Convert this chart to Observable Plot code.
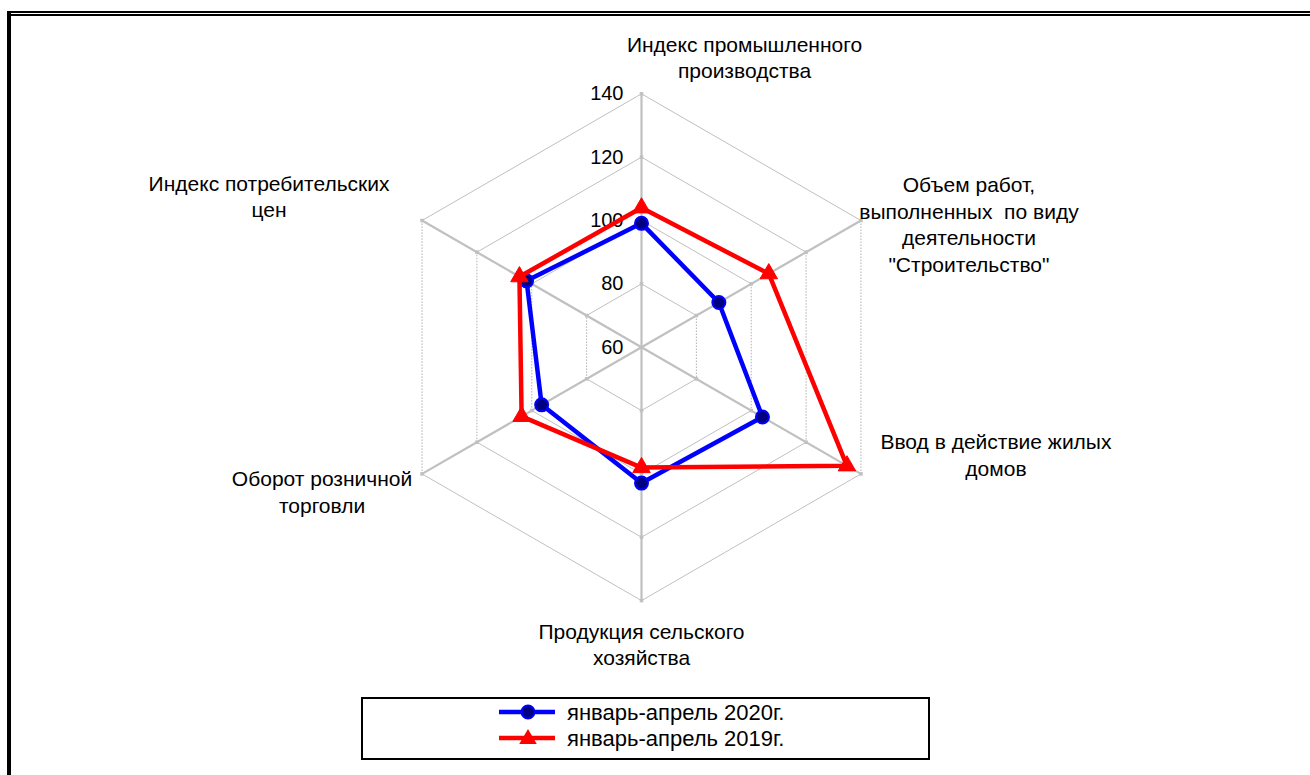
<!DOCTYPE html>
<html><head><meta charset="utf-8">
<script src="https://cdn.jsdelivr.net/npm/d3@7"></script>
<script src="https://cdn.jsdelivr.net/npm/@observablehq/plot@0.6"></script>
<style>
body{margin:0;background:#fff;}
#wrap{position:relative;width:1310px;height:775px;overflow:hidden;font-family:"Liberation Sans",Arial,sans-serif;}
#chart{position:absolute;left:0;top:0;}
.fr{position:absolute;background:#000;}
#legend{position:absolute;left:361px;top:697px;width:569px;height:63px;border:2px solid #000;box-sizing:border-box;background:#fff;}
svg text{white-space:pre;}
</style></head><body>
<div id="wrap">
  <div id="chart"></div>
  <div class="fr" style="left:7px;top:11px;width:4px;height:764px"></div>
  <div class="fr" style="left:7px;top:11px;width:1303px;height:2px"></div>
  <div class="fr" style="left:11px;top:14px;width:1299px;height:1.5px"></div>
  <div id="legend"></div>
</div>
<script>
const categories = [
  "Индекс промышленного\nпроизводства",
  "Объем работ,\nвыполненных  по виду\nдеятельности\n\"Строительство\"",
  "Ввод в действие жилых\nдомов",
  "Продукция сельского\nхозяйства",
  "Оборот розничной\nторговли",
  "Индекс потребительских\nцен"
];
const series2020 = [99.1, 88.2, 104.1, 102.9, 96.4, 101.9];
const series2019 = [104.0, 106.4, 134.9, 98.0, 103.7, 104.5];
const seriesNames = ["январь-апрель 2020г.", "январь-апрель 2019г."];
const ticks = [60, 80, 100, 120, 140];

const baseV = ticks[0], maxV = ticks[ticks.length - 1];
const n = categories.length;
const ang = i => 2 * Math.PI * i / n;
const px = (v, i) => (v - baseV) * Math.sin(ang(i));
const py = (v, i) => (v - baseV) * Math.cos(ang(i));

const d2020 = series2020.map((v, i) => ({i, v}));
const d2019 = series2019.map((v, i) => ({i, v}));

const rings = ticks.filter(t => t > baseV);
const edges = [];
for (const t of rings) for (let i = 0; i < n; i++) edges.push({t, i, j: (i + 1) % n, vertical: (i === 1 || i === 4)});
const nodes = [];
for (const t of rings) for (let i = 0; i < n; i++) nodes.push({t, i});
const idx = d3.range(n);

const cx = 641, cy = 346.7, R = 253.4, span = maxV - baseV;

// label offsets in pixels from the outer vertex of each spoke
const labelOffsets = [[103, -37], [108, 3], [135, -20], [0, 43], [-100, 17], [-153, -25]];

const font = "Liberation Sans, Arial, sans-serif";

const marks = [
  Plot.link(edges.filter(e => !e.vertical), {
    x1: e => px(e.t, e.i), y1: e => py(e.t, e.i), x2: e => px(e.t, e.j), y2: e => py(e.t, e.j),
    stroke: "#c0c0c0", strokeWidth: 1
  }),
  Plot.link(edges.filter(e => e.vertical), {
    x1: e => px(e.t, e.i), y1: e => py(e.t, e.i), x2: e => px(e.t, e.j), y2: e => py(e.t, e.j),
    stroke: "#b0b0b0", strokeWidth: 1, strokeDasharray: "1.5,1.5"
  }),
  Plot.link(idx, {
    x1: () => 0, y1: () => 0, x2: i => px(maxV, i), y2: i => py(maxV, i),
    stroke: "#c0c0c0", strokeWidth: 2.2
  }),
  Plot.dot(nodes, {x: d => px(d.t, d.i), y: d => py(d.t, d.i), symbol: "square", r: 2, fill: "#c0c0c0"}),
  Plot.text(ticks, {
    x: () => 0, y: t => t - baseV, text: t => String(t),
    textAnchor: "end", dx: -18, fontSize: 20, fill: "#000", fontFamily: font
  }),
  ...idx.map(i => Plot.text([i], {
    x: k => px(maxV, k), y: k => py(maxV, k), text: k => categories[k],
    dx: labelOffsets[i][0], dy: labelOffsets[i][1],
    textAnchor: "middle", lineAnchor: "middle", lineHeight: 1.26,
    fontSize: 21, fill: "#000", fontFamily: font
  })),
  Plot.line(d2020, {x: d => px(d.v, d.i), y: d => py(d.v, d.i), curve: "linear-closed", stroke: "#0000ff", strokeWidth: 4.5}),
  Plot.dot(d2020, {x: d => px(d.v, d.i), y: d => py(d.v, d.i), r: 6.5, fill: "#000080", stroke: "#0000ff", strokeWidth: 2}),
  Plot.line(d2019, {x: d => px(d.v, d.i), y: d => py(d.v, d.i), curve: "linear-closed", stroke: "#ff0000", strokeWidth: 4.5}),
  Plot.dot(d2019, {x: d => px(d.v, d.i), y: d => py(d.v, d.i), symbol: "triangle", r: 6.5, fill: "#ff0000", stroke: "#ff0000", strokeWidth: 1})
];

const chart = Plot.plot({
  width: 1310, height: 690, margin: 0,
  x: {domain: [-span, span], range: [cx - R, cx + R], axis: null},
  y: {domain: [-span, span], range: [cy + R, cy - R], axis: null},
  style: {background: "transparent", overflow: "visible", fontFamily: font},
  marks
});
document.getElementById("chart").appendChild(chart);

// legend
const lg = d3.select("#legend").append("svg").attr("width", 565).attr("height", 59)
  .style("position", "absolute").style("left", "0px").style("top", "0px");
const colors = ["#0000ff", "#ff0000"];
seriesNames.forEach((name, k) => {
  const y = 13 + k * 26;
  lg.append("line").attr("x1", 136).attr("x2", 192).attr("y1", y).attr("y2", y)
    .attr("stroke", colors[k]).attr("stroke-width", 4.5);
  if (k === 0) {
    lg.append("circle").attr("cx", 165).attr("cy", y).attr("r", 6.5)
      .attr("fill", "#000080").attr("stroke", "#0000ff").attr("stroke-width", 2);
  } else {
    lg.append("path").attr("d", d3.symbol(d3.symbolTriangle, Math.PI * 6.5 * 6.5)())
      .attr("transform", `translate(165,${y + 1})`).attr("fill", "#ff0000");
  }
  lg.append("text").attr("x", 204).attr("y", y).attr("dy", "0.35em")
    .attr("font-size", 22).attr("font-family", font).attr("fill", "#000").text(name);
});
</script>
</body></html>
